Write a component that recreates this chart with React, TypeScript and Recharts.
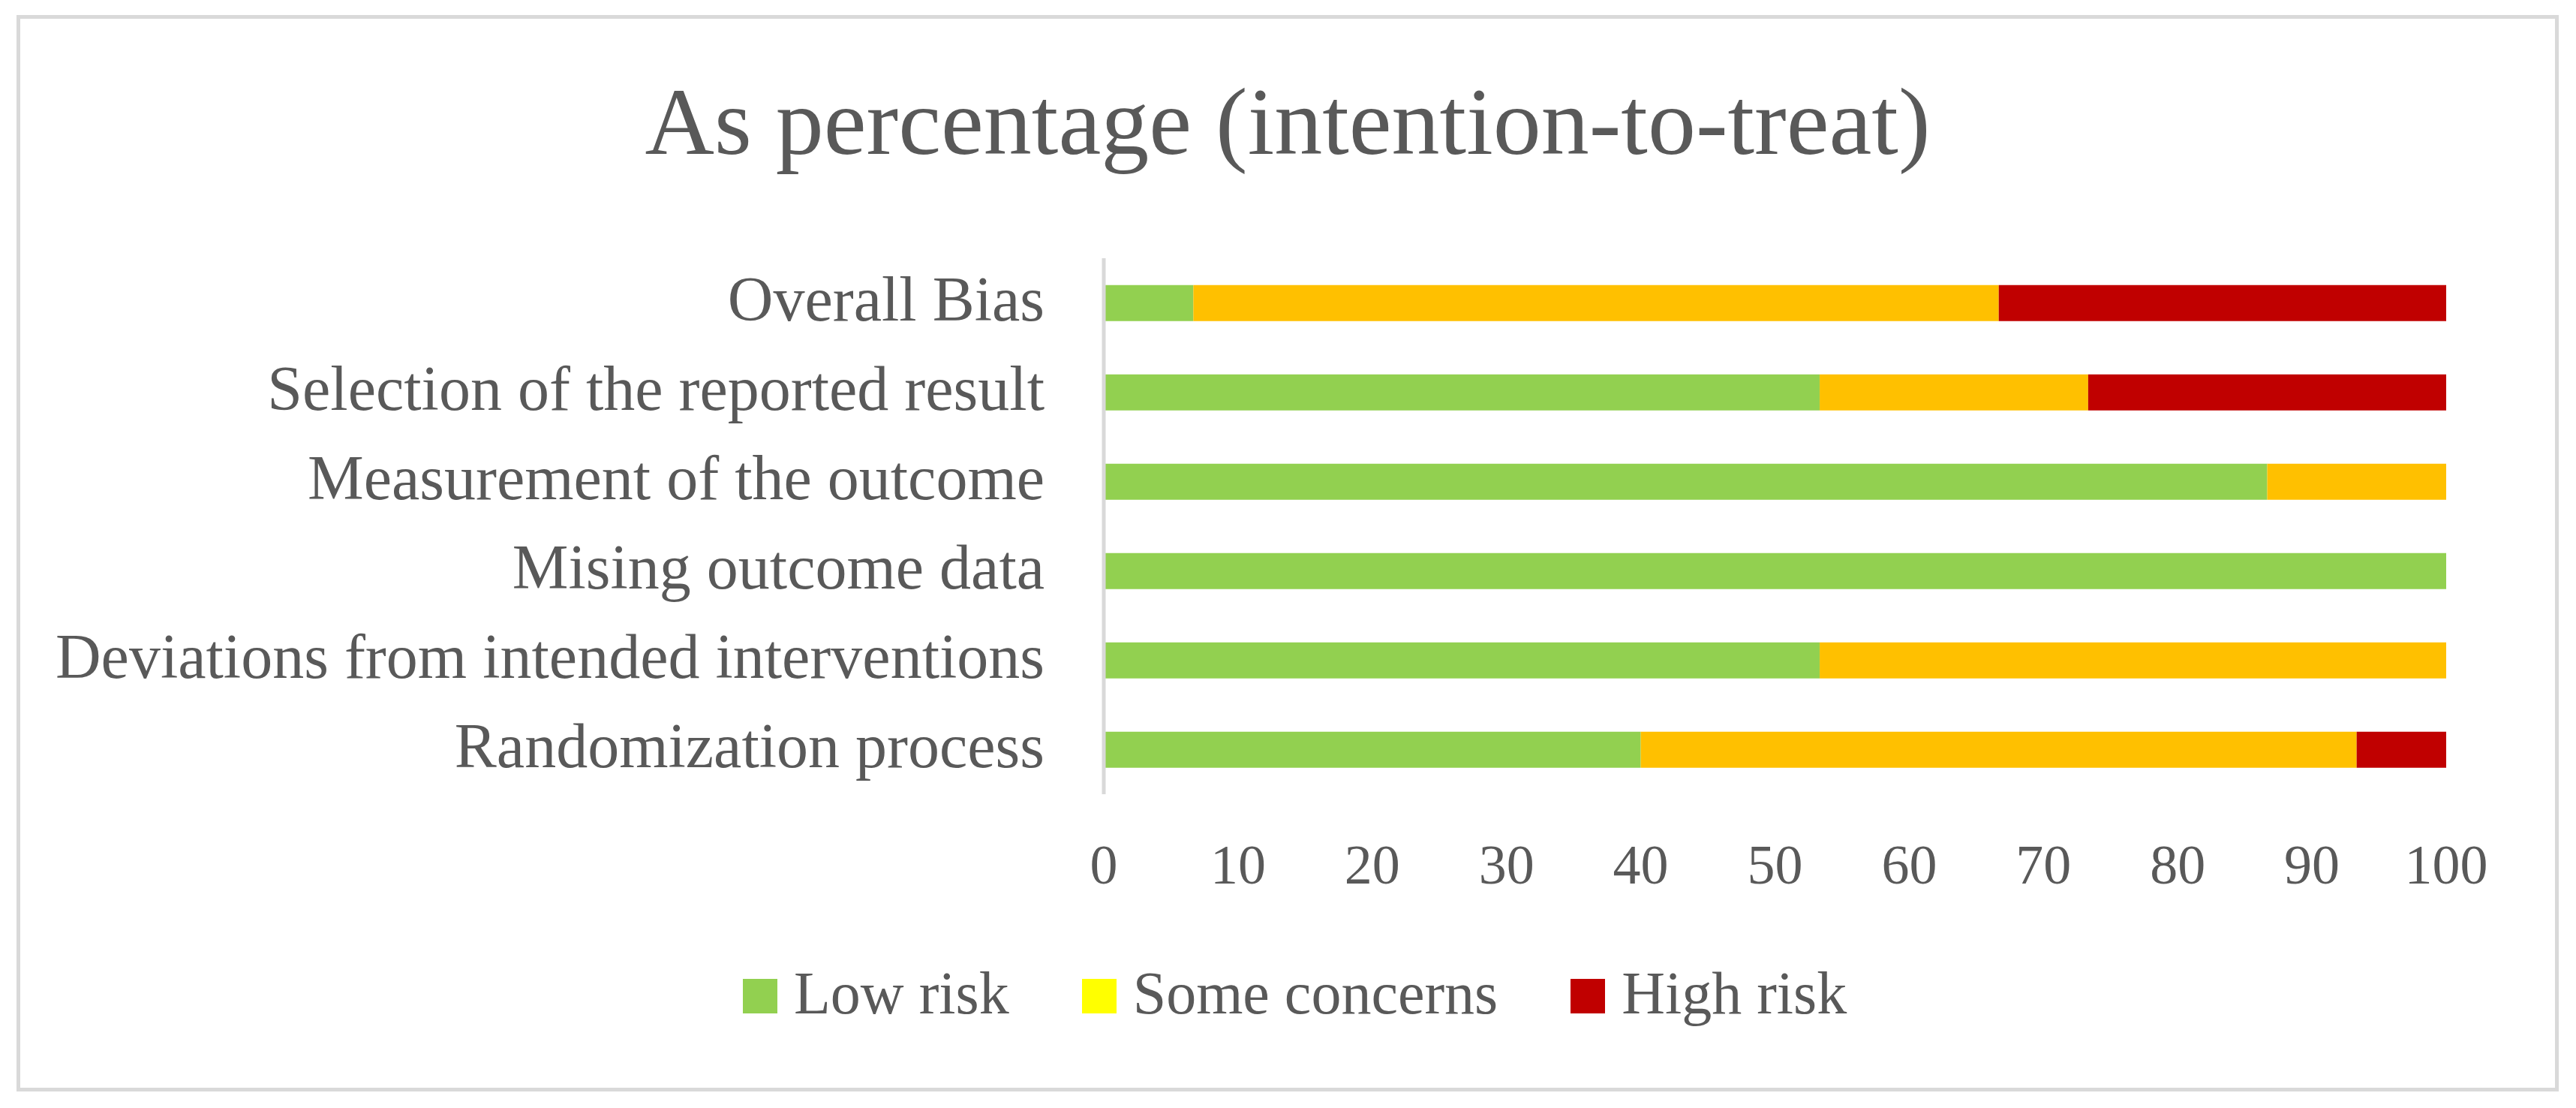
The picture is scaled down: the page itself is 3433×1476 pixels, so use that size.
import React from "react";
import { Bar, BarChart, XAxis, YAxis } from "recharts";

const categories = [
  "Overall Bias",
  "Selection of the reported result",
  "Measurement of the outcome",
  "Mising outcome data",
  "Deviations from intended interventions",
  "Randomization process",
];
const lowRisk = [6.67, 53.33, 86.67, 100, 53.33, 40];
const someConcerns = [60, 20, 13.33, 0, 46.67, 53.33];
const highRisk = [33.33, 26.67, 0, 0, 0, 6.67];
const xTicks = [0, 10, 20, 30, 40, 50, 60, 70, 80, 90, 100];

const legendItems = [
  { label: "Low risk", color: "#92D050" },
  { label: "Some concerns", color: "#FFFF00" },
  { label: "High risk", color: "#C00000" },
];

const data = categories.map((name, i) => ({
  name,
  low: lowRisk[i],
  some: someConcerns[i],
  high: highRisk[i],
}));

const FONT = '"Liberation Serif", "Times New Roman", serif';
const TEXT = "#595959";

export default function App() {
  return (
    <div
      style={{
        marginLeft: 14,
        marginTop: 12,
        width: 3378,
        height: 1424,
        border: "5px solid #D9D9D9",
        position: "relative",
        background: "#fff",
        fontFamily: FONT,
        color: TEXT,
      }}
    >
      <div
        style={{
          position: "absolute",
          top: 73,
          left: 0,
          width: "100%",
          textAlign: "center",
          fontSize: 128,
          lineHeight: 1,
        }}
      >
        As percentage (intention-to-treat)
      </div>
      <BarChart
        width={3378}
        height={1424}
        data={data}
        layout="vertical"
        barCategoryGap="30%"
        margin={{ top: 319, right: 145, bottom: 331, left: 0 }}
      >
        <XAxis
          type="number"
          domain={[0, 100]}
          ticks={xTicks}
          axisLine={false}
          tickLine={false}
          tickSize={0}
          tickMargin={66}
          height={60}
          tick={{ fill: TEXT, fontSize: 74, fontFamily: FONT }}
        />
        <YAxis
          type="category"
          dataKey="name"
          width={1444}
          tickLine={false}
          tickSize={0}
          tickMargin={79}
          axisLine={{ stroke: "#D9D9D9", strokeWidth: 5 }}
          tick={{ fill: TEXT, fontSize: 84, fontFamily: FONT, dy: -6 }}
        />
        <Bar dataKey="low" stackId="a" fill="#92D050" isAnimationActive={false} />
        <Bar dataKey="some" stackId="a" fill="#FFC000" isAnimationActive={false} />
        <Bar dataKey="high" stackId="a" fill="#C00000" isAnimationActive={false} />
      </BarChart>
      <div
        style={{
          position: "absolute",
          top: 1258,
          left: 963,
          display: "flex",
          alignItems: "center",
          fontSize: 80,
          lineHeight: 1,
          whiteSpace: "nowrap",
        }}
      >
        {legendItems.map((item) => (
          <div
            key={item.label}
            style={{ display: "flex", alignItems: "center", marginRight: 97 }}
          >
            <span
              style={{
                display: "inline-block",
                width: 46,
                height: 46,
                background: item.color,
                marginRight: 22,
                marginTop: 8,
              }}
            />
            <span>{item.label}</span>
          </div>
        ))}
      </div>
    </div>
  );
}
